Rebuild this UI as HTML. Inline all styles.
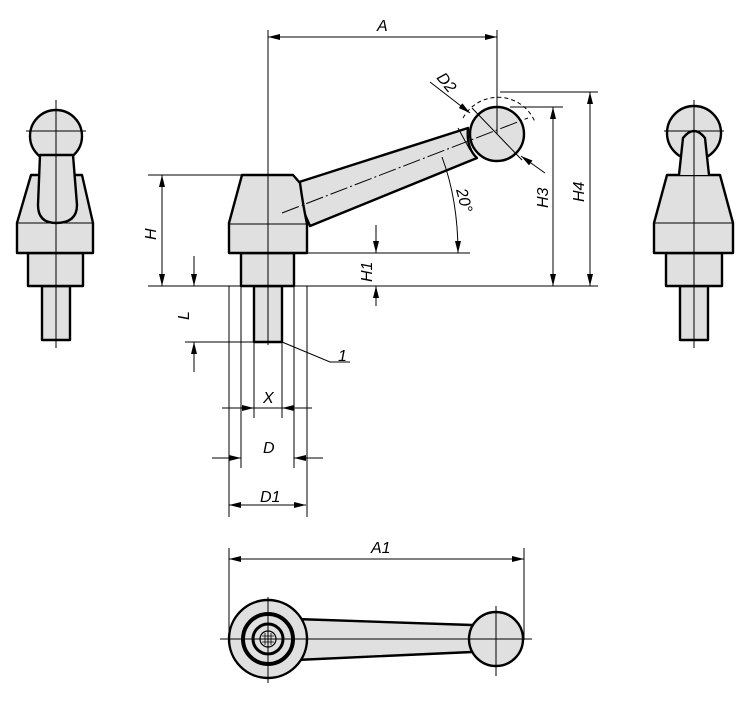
<!DOCTYPE html>
<html><head><meta charset="utf-8"><style>
html,body{margin:0;padding:0;background:#fff;}
svg{display:block}
text{font-family:"Liberation Sans",sans-serif;font-style:italic;font-size:16px;fill:#000}
</style></head><body>
<svg width="750" height="703" viewBox="0 0 750 703" xmlns="http://www.w3.org/2000/svg">
<defs>
<marker id="ar" viewBox="0 0 12 6" refX="12" refY="3" markerWidth="12" markerHeight="6" orient="auto-start-reverse" markerUnits="userSpaceOnUse"><path d="M0,0 L12,3 L0,6 Z" fill="#000"/></marker>
</defs>
<g fill="#e0e0e0" stroke="#000" stroke-width="2.4" stroke-linejoin="round">
<rect x="42" y="286" width="28" height="54"/>
<rect x="28" y="253" width="55" height="33"/>
<path d="M31,175 L82,175 L93,223 L93,253 L17,253 L17,223 Z"/>
<circle cx="56" cy="136" r="26"/>
<path d="M40,155 L38,205 Q38,223 56,223 Q77,223 77,205 L73,155 Z"/>
<rect x="680" y="286" width="28" height="54"/>
<rect x="666" y="253" width="56" height="33"/>
<circle cx="694" cy="133" r="27"/>
<path d="M667,175 L720,175 L733,223 L733,253 L654,253 L654,223 Z"/>
<path d="M679,175 L683,138 Q694,124 705,138 L709,175"/>
<rect x="254" y="286" width="28" height="56"/>
<rect x="241" y="253" width="53" height="33"/>
<path d="M296,183 L468,128 Q466,148 477,158 L310,226 Q300,205 296,183 Z"/>
<circle cx="497" cy="134" r="27"/>
<path d="M242,175 L293,175 L300,183 Q303,205 307,224 L307,253 L229,253 L229,223 Z"/>
<path d="M296,619 L472,625 L472,652 L296,660 Z"/>
<circle cx="496" cy="639" r="27"/>
<circle cx="268" cy="639" r="39"/>
</g>
<g fill="none" stroke="#000">
<circle cx="268" cy="639" r="25" stroke-width="4"/>
<circle cx="268" cy="639" r="15" stroke-width="3"/>
<circle cx="268" cy="639" r="8" stroke-width="1.2"/>
<path d="M262,636h12M262,642h12M265,633v12M271,633v12" stroke-width="0.8"/>
<g stroke-width="1">
<path d="M17,223H93M654,223H733M229,224H307"/>
<path d="M56,100V348M26,131H86M694,100V348M664,131H724"/>
<path d="M268,30V345"/>
<path d="M282,213L528,118" stroke-dasharray="18,3,2,3"/>
<path d="M220,639H532M268,597V683M496,606V676"/>
<path d="M472,108L522,160M458,128L470,150"/>
<path d="M463,118 A40,40 0 0 1 535,122" stroke-dasharray="4,3"/>
<path d="M148,175H242M148,286H598M307,253H470"/>
<path d="M162,175V286" marker-start="url(#ar)" marker-end="url(#ar)"/>
<path d="M185,342H254"/>
<path d="M194,256V286" marker-end="url(#ar)"/>
<path d="M194,372V342" marker-end="url(#ar)"/>
<path d="M376,225V253" marker-end="url(#ar)"/>
<path d="M376,306V286" marker-end="url(#ar)"/>
<path d="M510,107H563M500,92H598"/>
<path d="M553,107V286" marker-start="url(#ar)" marker-end="url(#ar)"/>
<path d="M590,92V286" marker-start="url(#ar)" marker-end="url(#ar)"/>
<path d="M497,30V134"/>
<path d="M268,37H497" marker-start="url(#ar)" marker-end="url(#ar)"/>
<path d="M430,82L470,113" marker-end="url(#ar)"/>
<path d="M545,173L521,156" marker-end="url(#ar)"/>
<path d="M442,157 Q458,200 458,253" marker-end="url(#ar)"/>
<path d="M282,342L330,362H350"/>
<path d="M229,286V517M241,286V468M254,342V418M282,342V418M294,286V468M307,286V517"/>
<path d="M222,408H254" marker-end="url(#ar)"/>
<path d="M312,408H282" marker-end="url(#ar)"/>
<path d="M254,408H282"/>
<path d="M212,458H241" marker-end="url(#ar)"/>
<path d="M323,458H294" marker-end="url(#ar)"/>
<path d="M229,505H306" marker-start="url(#ar)" marker-end="url(#ar)"/>
<path d="M229,548V640M524,548V640"/>
<path d="M229,559H524" marker-start="url(#ar)" marker-end="url(#ar)"/>
</g>
</g>
<text x="377" y="31">A</text>
<text x="371" y="553">A1</text>
<text x="263" y="403">X</text>
<text x="263" y="453">D</text>
<text x="260" y="502">D1</text>
<text x="338" y="361">1</text>
<text transform="translate(156,240) rotate(-90)">H</text>
<text transform="translate(189,320) rotate(-90)">L</text>
<text transform="translate(372,282) rotate(-90)">H1</text>
<text transform="translate(548,208) rotate(-90)">H3</text>
<text transform="translate(584,202) rotate(-90)">H4</text>
<text transform="translate(436,78) rotate(50)">D2</text>
<text transform="translate(456,190) rotate(75)">20°</text>
</svg>
</body></html>
